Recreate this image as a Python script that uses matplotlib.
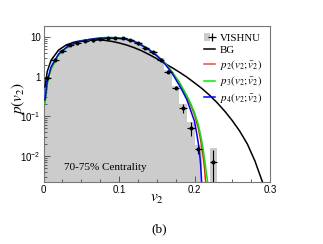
import matplotlib
matplotlib.use('Agg')
import numpy as np
import matplotlib.pyplot as plt
from matplotlib.patches import Patch
from matplotlib.lines import Line2D
from matplotlib.legend_handler import HandlerTuple
from matplotlib.ticker import FixedLocator, FixedFormatter, MultipleLocator, LogLocator, NullFormatter

plt.rcParams['mathtext.fontset'] = 'stix'
plt.rcParams['font.family'] = ['Liberation Sans', 'DejaVu Sans']

# ---------------- data ----------------
bin_centers = [0.005, 0.015, 0.025, 0.035, 0.045, 0.055, 0.065, 0.075, 0.085, 0.095,
               0.105, 0.115, 0.125, 0.135, 0.145, 0.155, 0.165, 0.175, 0.185, 0.195,
               0.205, 0.215, 0.225]
vishnu = [0.9, 2.7, 4.5, 6.2, 7.0, 7.8, 8.2, 8.8, 9.2, 9.3,
          9.3, 8.4, 6.9, 5.3, 4.1, 2.7, 1.34, 0.53, 0.16, 0.052,
          0.0148, 0.0, 0.0072]
vishnu_err = [0.08, 0.2, 0.3, 0.4, 0.45, 0.5, 0.5, 0.55, 0.55, 0.55,
              0.55, 0.5, 0.45, 0.35, 0.28, 0.2, 0.1, 0.05, 0.04, 0.02,
              0.0035, 0.0, 0.0072]

bg_v = [0.002, 0.005, 0.01, 0.02, 0.03, 0.04, 0.05, 0.06, 0.07, 0.08, 0.09, 0.10,
        0.11, 0.12, 0.13, 0.14, 0.15, 0.16, 0.17, 0.18, 0.19, 0.20, 0.21, 0.22,
        0.23, 0.24, 0.25, 0.26, 0.27, 0.28, 0.29]
bg_p = [0.55, 1.35, 2.6, 4.7, 6.3, 7.4, 8.1, 8.5, 8.5, 8.3, 7.8, 7.1,
        6.3, 5.4, 4.5, 3.6, 2.85, 2.2, 1.7, 1.3, 0.97, 0.70, 0.50, 0.34,
        0.22, 0.135, 0.078, 0.042, 0.020, 0.0075, 0.0022]

p2_v = [0.002, 0.005, 0.01, 0.02, 0.03, 0.04, 0.05, 0.06, 0.07, 0.08, 0.09, 0.10,
        0.11, 0.12, 0.13, 0.14, 0.15, 0.16, 0.17, 0.18, 0.19, 0.195, 0.20, 0.205,
        0.208, 0.211, 0.213, 0.2148]
p2_p = [0.23, 0.70, 1.62, 3.6, 5.3, 6.75, 7.8, 8.65, 9.2, 9.55, 9.65, 9.45,
        8.9, 7.8, 6.3, 4.8, 3.45, 2.3, 1.35, 0.70, 0.31, 0.19, 0.11, 0.05,
        0.026, 0.011, 0.0055, 0.0022]

p3_v = [0.002, 0.005, 0.01, 0.02, 0.03, 0.04, 0.05, 0.06, 0.07, 0.08, 0.09, 0.10,
        0.11, 0.12, 0.13, 0.14, 0.15, 0.16, 0.17, 0.18, 0.19, 0.195, 0.20, 0.205,
        0.209, 0.212, 0.215, 0.2175]
p3_p = [0.21, 0.65, 1.55, 3.5, 5.2, 6.7, 7.8, 8.7, 9.3, 9.7, 9.8, 9.6,
        9.0, 7.9, 6.4, 4.9, 3.45, 2.3, 1.35, 0.72, 0.33, 0.21, 0.125, 0.062,
        0.028, 0.013, 0.0048, 0.0021]

p4_v = [0.002, 0.005, 0.01, 0.02, 0.03, 0.04, 0.05, 0.06, 0.07, 0.08, 0.09, 0.10,
        0.11, 0.12, 0.13, 0.14, 0.15, 0.16, 0.17, 0.18, 0.185, 0.19, 0.195, 0.20,
        0.203, 0.206, 0.208, 0.2095]
p4_p = [0.26, 0.78, 1.75, 3.75, 5.45, 6.85, 7.85, 8.6, 9.1, 9.4, 9.45, 9.25,
        8.7, 7.7, 6.2, 4.7, 3.4, 2.2, 1.25, 0.60, 0.40, 0.26, 0.14, 0.075,
        0.036, 0.016, 0.0065, 0.0021]

xticks = [0.0, 0.1, 0.2, 0.3]
xticklabels = ['0', '0.1', '0.2', '0.3']
yticks = [10, 1, 0.1, 0.01]
yticklabels = ['10', '1', r'$\mathdefault{10^{-1}}$', r'$\mathdefault{10^{-2}}$']
labels = ['VISHNU', 'BG', r'$p_2(v_2;\bar{v}_2)$', r'$p_3(v_2;\bar{v}_2)$', r'$p_4(v_2;\bar{v}_2)$']

# ---------------- plot ----------------
YMIN, YMAX = 0.0022, 19.0
fig = plt.figure(figsize=(3.23, 2.44), dpi=100)
ax = fig.add_axes([43.5 / 323, 1 - 182 / 244, 226.5 / 323, 156 / 244])
ax.set_yscale('log')
ax.set_xlim(0, 0.3)
ax.set_ylim(YMIN, YMAX)

c = np.array(bin_centers)
v = np.array(vishnu)
e = np.array(vishnu_err)
gray = '#cccccc'
ax.bar(c, v + e, width=0.01, bottom=YMIN * 0.5, color=gray, linewidth=0, zorder=1)

m = v > 0
lower = np.minimum(e[m], v[m] * 0.999)
ax.errorbar(c[m], v[m], xerr=0.005, yerr=[lower, e[m]], fmt='o', ms=1.9, color='k',
            elinewidth=0.8, capsize=0, zorder=5)

ax.plot(bg_v, bg_p, color='k', lw=1.1, zorder=3)
ax.plot(p2_v, p2_p, color='#ff2020', lw=1.1, zorder=3)
ax.plot(p3_v, p3_p, color='#00ee00', lw=1.1, zorder=3)
ax.plot(p4_v, p4_p, color='#0000ff', lw=1.1, zorder=4)

ax.xaxis.set_major_locator(FixedLocator(xticks))
ax.xaxis.set_major_formatter(FixedFormatter(xticklabels))
ax.xaxis.set_minor_locator(MultipleLocator(0.025))
ax.yaxis.set_major_locator(FixedLocator(yticks))
ax.yaxis.set_major_formatter(FixedFormatter(yticklabels))
ax.yaxis.set_minor_locator(LogLocator(base=10, subs=np.arange(2, 10), numticks=20))
ax.yaxis.set_minor_formatter(NullFormatter())
ax.tick_params(which='both', direction='in', top=False, right=False, labelsize=7, pad=2,
               color='#444444', width=0.6)
ax.tick_params(which='major', length=4.5)
ax.tick_params(which='minor', length=2.3)
for s in ax.spines.values():
    s.set_color('#777777')
    s.set_linewidth(0.8)

# legend
h_vis = (Patch(facecolor=gray, edgecolor='none'),
         Line2D([], [], color='k', marker='+', ms=6, mew=0.9, lw=0))
handles = [h_vis,
           Line2D([], [], color='k', lw=1.1),
           Line2D([], [], color='#ff4040', lw=1.1),
           Line2D([], [], color='#00ee00', lw=1.1),
           Line2D([], [], color='#0000ff', lw=1.1)]
leg = ax.legend(handles, labels, loc='upper left', bbox_to_anchor=(0.71, 0.955),
                frameon=False, handlelength=1.0, handletextpad=0.45, labelspacing=0.25,
                borderaxespad=0, borderpad=0,
                handler_map={tuple: HandlerTuple(ndivide=None)},
                prop={'family': 'Liberation Serif', 'size': 7.8})

ax.text(0.027, 0.0052, '70-75% Centrality', family='Liberation Serif', fontsize=8,
        va='center', ha='left', zorder=6)

fig.text(157 / 323, 1 - 199 / 244, r'$v_2$', fontsize=11, ha='center', va='center')
fig.text(18 / 323, 1 - 98 / 244, r'$p(v_2)$', fontsize=11, ha='center', va='center', rotation=90)
fig.text(159 / 323, 1 - 229 / 244, '(b)', family='Liberation Serif', fontsize=9.5,
         ha='center', va='center')

fig.savefig('out.png', dpi=100)
